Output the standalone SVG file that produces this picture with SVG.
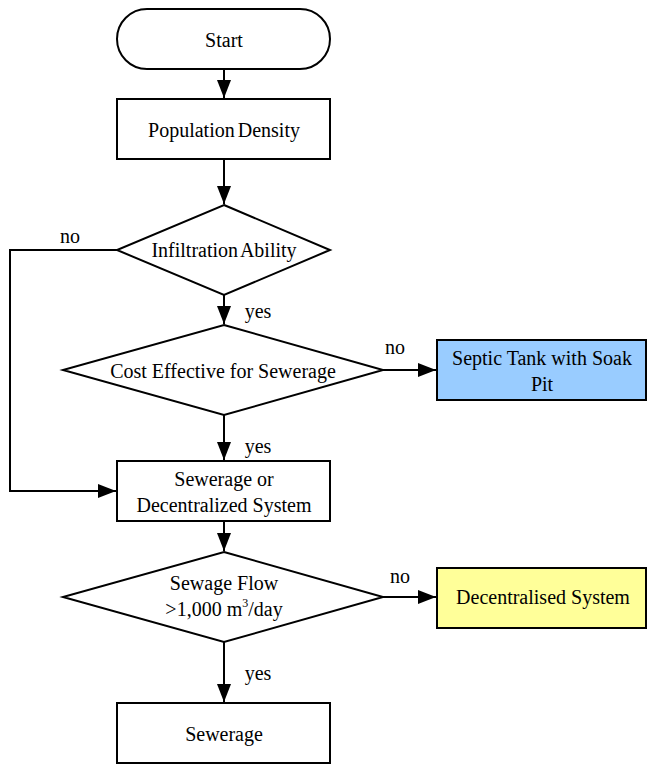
<svg xmlns="http://www.w3.org/2000/svg" width="647" height="765" viewBox="0 0 647 765">
<style>
.s{fill:#fff;stroke:#000;stroke-width:2}
.t{font-family:"Liberation Serif","Times New Roman",serif;font-size:20px;fill:#000;text-anchor:middle;dominant-baseline:central}
.l{font-family:"Liberation Serif","Times New Roman",serif;font-size:20px;fill:#000;text-anchor:middle;dominant-baseline:central}
.c{fill:none;stroke:#000;stroke-width:2}
</style>
<defs>
<marker id="a" markerUnits="userSpaceOnUse" markerWidth="18" markerHeight="16" viewBox="0 0 18 16" refX="18" refY="8" orient="auto">
<path d="M0,1 L18,8 L0,15 Z" fill="#000"/>
</marker>
</defs>
<g id="connectors">
<path class="c" d="M224,69 V98" marker-end="url(#a)"/>
<path class="c" d="M224,159 V204" marker-end="url(#a)"/>
<path class="c" d="M224,295 V324" marker-end="url(#a)"/>
<path class="c" d="M117,250 H10 V491 H116" marker-end="url(#a)"/>
<path class="c" d="M383,370 H436" marker-end="url(#a)"/>
<path class="c" d="M224,415 V460" marker-end="url(#a)"/>
<path class="c" d="M224,521 V551" marker-end="url(#a)"/>
<path class="c" d="M383,597 H436" marker-end="url(#a)"/>
<path class="c" d="M224,642 V702" marker-end="url(#a)"/>
<text class="l" x="70" y="236">no</text>
<text class="l" x="258" y="311">yes</text>
<text class="l" x="395" y="347">no</text>
<text class="l" x="258" y="446">yes</text>
<text class="l" x="400" y="576">no</text>
<text class="l" x="258" y="673">yes</text>
</g>
<g id="start">
<rect class="s" x="117" y="9" width="213" height="60" rx="30" ry="30"/>
<text class="t" x="224" y="40">Start</text>
</g>
<g id="population">
<rect class="s" x="117" y="99" width="213" height="60"/>
<text class="t" x="224" y="130" word-spacing="-2">Population Density</text>
</g>
<g id="infiltration">
<polygon class="s" points="224,205 330,250 224,295 117,250"/>
<text class="t" x="224" y="250" word-spacing="-2">Infiltration Ability</text>
</g>
<g id="cost">
<polygon class="s" points="224,325 383,370 224,415 63,370"/>
<text class="t" x="223" y="371">Cost Effective for Sewerage</text>
</g>
<g id="septic">
<rect x="437" y="340" width="209" height="60" fill="#99ccff" stroke="#000" stroke-width="2"/>
<text class="t" x="542" y="358">Septic Tank with Soak</text>
<text class="t" x="542" y="384">Pit</text>
</g>
<g id="sewerage-or">
<rect class="s" x="117" y="461" width="213" height="60"/>
<text class="t" x="224" y="479">Sewerage or</text>
<text class="t" x="224" y="505">Decentralized System</text>
</g>
<g id="flow">
<polygon class="s" points="224,552 383,597 224,642 63,597"/>
<text class="t" x="224" y="583">Sewage Flow</text>
<text class="t" x="224" y="609">&gt;1,000 m<tspan font-size="12" dy="-6">3</tspan><tspan dy="6">/day</tspan></text>
</g>
<g id="decentralised">
<rect x="437" y="568" width="209" height="60" fill="#ffff99" stroke="#000" stroke-width="2"/>
<text class="t" x="543" y="597">Decentralised System</text>
</g>
<g id="sewerage">
<rect class="s" x="117" y="703" width="213" height="60"/>
<text class="t" x="224" y="734">Sewerage</text>
</g>
</svg>
